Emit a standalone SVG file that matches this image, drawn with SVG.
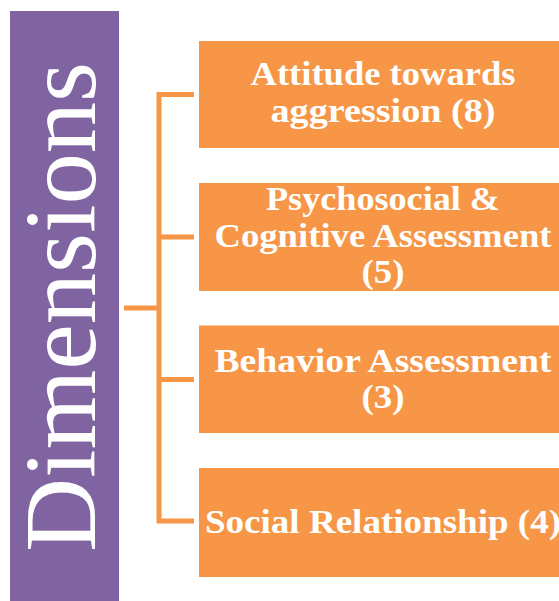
<svg xmlns="http://www.w3.org/2000/svg" width="559" height="601" viewBox="0 0 559 601">
  <style>
    .box { fill: #F79646; }
    .lbl { font-family: "Liberation Serif", "Times New Roman", serif; font-weight: bold; font-size: 33px; fill: #FFFFFF; text-anchor: middle; }
    .wire { stroke: #F79646; stroke-width: 5; fill: none; }
  </style>
  <rect width="559" height="601" fill="#FFFFFF"/>

  <!-- vertical title panel -->
  <g id="dimensions">
    <rect x="10" y="11" width="109" height="590" fill="#8064A2"/>
    <text transform="translate(95,307) rotate(-90)" x="0" y="0" font-family="Liberation Serif, 'Times New Roman', serif" font-size="102" fill="#FFFFFF" text-anchor="middle" textLength="490" lengthAdjust="spacingAndGlyphs">Dimensions</text>
  </g>

  <!-- bracket connectors -->
  <g id="connectors">
    <line class="wire" x1="124" y1="308" x2="159" y2="308"/>
    <polyline class="wire" points="194,94.5 159,94.5 159,521 194,521"/>
    <line class="wire" x1="159" y1="237" x2="194" y2="237"/>
    <line class="wire" x1="159" y1="379.5" x2="194" y2="379.5"/>
  </g>

  <g id="attitude">
    <rect class="box" x="199" y="41" width="368" height="107"/>
    <text class="lbl" x="383" y="85" textLength="265" lengthAdjust="spacingAndGlyphs">Attitude towards</text>
    <text class="lbl" x="383" y="122" textLength="225" lengthAdjust="spacingAndGlyphs">aggression (8)</text>
  </g>

  <g id="psychosocial">
    <rect class="box" x="199" y="183" width="368" height="108"/>
    <text class="lbl" x="383" y="210" textLength="234" lengthAdjust="spacingAndGlyphs">Psychosocial &amp;</text>
    <text class="lbl" x="383" y="247" textLength="337" lengthAdjust="spacingAndGlyphs">Cognitive Assessment</text>
    <text class="lbl" x="383" y="283" textLength="43" lengthAdjust="spacingAndGlyphs">(5)</text>
  </g>

  <g id="behavior">
    <rect class="box" x="199" y="325.5" width="368" height="107.5"/>
    <text class="lbl" x="383" y="372" textLength="337" lengthAdjust="spacingAndGlyphs">Behavior Assessment</text>
    <text class="lbl" x="383" y="408" textLength="43" lengthAdjust="spacingAndGlyphs">(3)</text>
  </g>

  <g id="social">
    <rect class="box" x="199" y="468" width="368" height="109"/>
    <text class="lbl" x="383" y="533" textLength="356" lengthAdjust="spacingAndGlyphs">Social Relationship (4)</text>
  </g>
</svg>
